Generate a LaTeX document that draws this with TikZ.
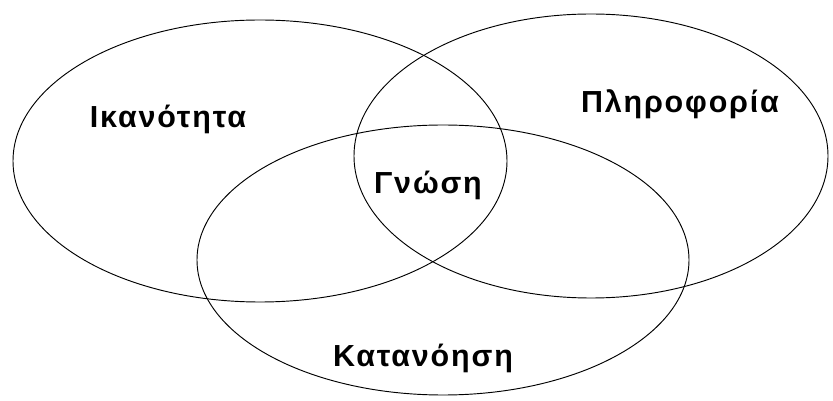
\documentclass[tikz,border=0pt]{standalone}
\usepackage{fontspec}
\setmainfont{Liberation Sans}
\usepackage{tikz}
\tikzset{
    venn/.style={draw=black, line width=0.8pt},
    lbl/.style={font=\fontsize{26}{28}\selectfont\bfseries\addfontfeatures{LetterSpace=6},
                inner sep=0pt, anchor=base}
}

\begin{document}
\begin{tikzpicture}[x=0.03cm, y=-0.03cm]
\useasboundingbox (0,0) rectangle (833,401);

% the three sets
\draw[venn] (260,161) ellipse [x radius=247, y radius=141];
\draw[venn] (591,156) ellipse [x radius=237, y radius=142];
\draw[venn] (443,260) ellipse [x radius=246, y radius=135];

% labels
\node[lbl] (ikan)  at (168,128) {Ικανότητα};
\node[lbl] (plir)  at (680,113) {Πληροφορία};
\node[lbl] (gnosi) at (428,194) {Γνώση};
\node[lbl] (katan) at (423,366) {Κατανόηση};
\end{tikzpicture}
\end{document}
